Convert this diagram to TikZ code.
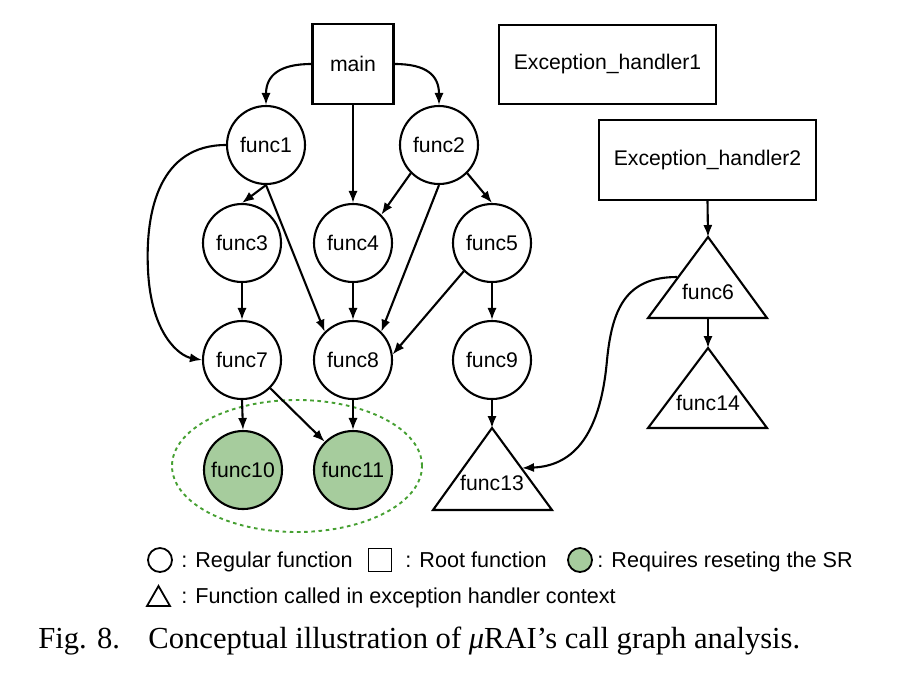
\documentclass[tikz,border=0pt]{standalone}
\usepackage{fontspec}
\setmainfont{Liberation Serif}
\setsansfont{Liberation Sans}
\usetikzlibrary{arrows.meta}
\definecolor{srfill}{RGB}{166,204,157}
\definecolor{srdash}{RGB}{70,160,50}
\begin{document}
\begin{tikzpicture}[x=0.5pt,y=-0.5pt,
  every node/.style={font=\sffamily\fontsize{10.6}{12}\selectfont},
  fn/.style={circle,draw,line width=1.05pt,minimum size=39pt,inner sep=0pt},
  srfn/.style={fn,fill=srfill},
  rootbox/.style={draw,line width=1.05pt,inner sep=0pt},
  edge/.style={line width=1.05pt,-{Latex[length=6pt,width=4.6pt]}},
  tri/.style={draw,line width=1.05pt,line join=miter},
  legtext/.style={anchor=base west,inner sep=0pt,font=\sffamily\fontsize{10.8}{12}\selectfont}]
\useasboundingbox (0,0) rectangle (924,676);
% boxes
\node[rootbox,minimum width=40.5pt,minimum height=40pt] (main) at (353,64) {main};
\node[rootbox,minimum width=108.5pt,minimum height=39.5pt] (eh1) at (607.5,64.5) {Exception\_handler1};
\node[rootbox,minimum width=108.5pt,minimum height=40pt] (eh2) at (707.5,160) {Exception\_handler2};
% circles
\node[fn] (f1) at (266,145) {func1};
\node[fn] (f2) at (439,145) {func2};
\node[fn] (f3) at (242,243) {func3};
\node[fn] (f4) at (353,243) {func4};
\node[fn] (f5) at (492,243) {func5};
\node[fn] (f7) at (242,360) {func7};
\node[fn] (f8) at (353,360) {func8};
\node[fn] (f9) at (492,360) {func9};
\node[srfn] (f10) at (243,470) {func10};
\node[srfn] (f11) at (353,470) {func11};
% triangles
\coordinate (t6a) at (708,237);
\coordinate (t6b) at (708,318);
\draw[tri] (t6a) -- (767,318) -- (648,318) -- cycle;
\node (f6) at (708,292) {func6};
\coordinate (t14a) at (708,348);
\draw[tri] (t14a) -- (767,428) -- (648,428) -- cycle;
\node (f14) at (708,403) {func14};
\coordinate (t13a) at (492,428);
\draw[tri] (t13a) -- (552,510) -- (433,510) -- cycle;
\node (f13) at (492,483) {func13};
\coordinate (t6e) at (677,277);
\coordinate (t13e) at (522,468);
% dashed ellipse
\draw[srdash,line width=0.95pt,dash pattern=on 1.8pt off 1.8pt] (297,466) ellipse [x radius=62.5pt, y radius=33pt];
% edges
\draw[edge] (main.west) .. controls (280,64) and (266,75) .. (f1.north);
\draw[edge] (main.east) .. controls (426,64) and (439,75) .. (f2.north);
\draw[edge] (main.south) -- (f4.north);
\draw[edge] (f1.south) -- (f3.north);
\draw[edge] (f1.south) -- (f8.north west);
\draw[edge] (f1.west) .. controls (160,145) and (145,210) .. (148,270) .. controls (151,335) and (180,356) .. (f7.west);
\draw[edge] (f2.south west) -- (f4.north east);
\draw[edge] (f2.south) -- (f8.north east);
\draw[edge] (f2.south east) -- (f5.north);
\draw[edge] (f3.south) -- (f7.north);
\draw[edge] (f4.south) -- (f8.north);
\draw[edge] (f5.south) -- (f9.north);
\draw[edge] (f5.south west) -- (f8.8);
\draw[edge] (f7.south) -- (f10.north);
\draw[edge] (f7.south east) -- (f11.north west);
\draw[edge] (f8.south) -- (f11.north);
\draw[edge] (f9.south) -- (t13a);
\draw[edge] (eh2.south) -- (t6a);
\draw[edge] (t6b) -- (t14a);
\draw[edge] (t6e) .. controls (625,277) and (612,310) .. (607,360) .. controls (600,440) and (570,466) .. (t13e);
% legend
\node[circle,draw,line width=0.9pt,minimum size=12pt,inner sep=0pt] (lc) at (160,560) {};
\node[legtext] (lt1) at (181,567) {: Regular function};
\node[draw,line width=0.9pt,minimum size=11.5pt,inner sep=0pt] (ls) at (380,560) {};
\node[legtext] (lt2) at (405,567) {: Root function};
\node[circle,draw,line width=0.9pt,fill=srfill,minimum size=12pt,inner sep=0pt] (lg) at (580,560) {};
\node[legtext] (lt3) at (597,567) {: Requires reseting the SR};
\draw[line width=0.9pt,line join=miter] (147,606) -- (170,606) -- (158.5,586) -- cycle;
\node[legtext] (lt4) at (181,603) {: Function called in exception handler context};
% caption
\node[anchor=base west,inner sep=0pt,font=\rmfamily\fontsize{15.3}{18}\selectfont] (cap1) at (38,648) {Fig. 8.};
\node[anchor=base west,inner sep=0pt,font=\rmfamily\fontsize{15.3}{18}\selectfont] (cap2) at (148,648) {Conceptual illustration of \textit{μ}RAI's call graph analysis.};
\end{tikzpicture}
\end{document}
